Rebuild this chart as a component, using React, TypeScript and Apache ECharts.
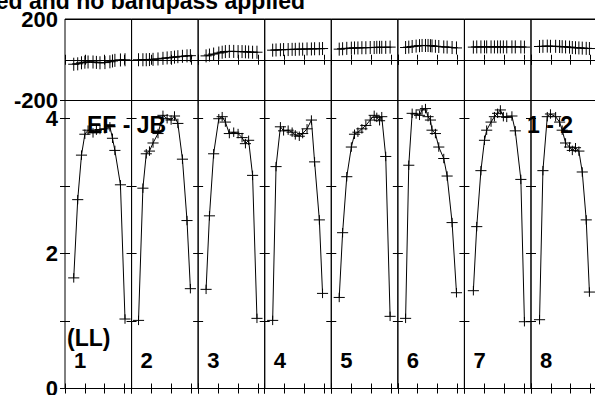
import React, { useEffect, useRef } from "react";
import * as echarts from "echarts";

// ---- data (time in tick units within each baseline segment) ----
const SEGMENT_LABELS = ["1", "2", "3", "4", "5", "6", "7", "8"];

const TIMES: number[][] = [
  [0.44, 0.64, 0.83, 1.0, 1.16, 1.41, 1.58, 1.76, 2.01, 2.26, 2.39, 2.51, 2.79, 3.02],
  [0.35, 0.57, 0.74, 0.9, 1.08, 1.33, 1.58, 1.79, 1.99, 2.16, 2.33, 2.56, 2.79, 2.96],
  [0.4, 0.57, 0.78, 1.04, 1.21, 1.37, 1.57, 1.79, 2.01, 2.21, 2.38, 2.54, 2.74, 2.96],
  [0.4, 0.57, 0.79, 0.95, 1.18, 1.38, 1.54, 1.74, 1.91, 2.13, 2.35, 2.51, 2.75, 2.91],
  [0.4, 0.57, 0.78, 1.01, 1.17, 1.34, 1.54, 1.74, 1.96, 2.16, 2.29, 2.43, 2.54, 2.74, 2.96],
  [0.39, 0.55, 0.72, 0.92, 1.09, 1.22, 1.39, 1.52, 1.64, 1.72, 1.89, 2.06, 2.31, 2.48, 2.73, 2.95],
  [0.45, 0.62, 0.83, 1.01, 1.12, 1.34, 1.51, 1.67, 1.81, 1.96, 2.13, 2.39, 2.56, 2.84, 3.02],
  [0.43, 0.6, 0.82, 0.98, 1.24, 1.44, 1.57, 1.74, 1.94, 2.08, 2.24, 2.41, 2.58, 2.78, 2.94],
];

const AMPLITUDES: number[][] = [
  [1.64, 2.8, 3.46, 3.77, 3.83, 3.79, 3.83, 3.84, 3.85, 3.88, 3.71, 3.53, 3.02, 1.03],
  [1.01, 2.97, 3.48, 3.52, 3.64, 3.78, 4.05, 4.0, 3.98, 4.04, 3.93, 3.4, 2.49, 1.48],
  [1.47, 2.56, 3.48, 4.0, 4.03, 3.95, 3.78, 3.8, 3.78, 3.72, 3.63, 3.68, 3.16, 1.04],
  [1.01, 3.29, 3.88, 3.82, 3.83, 3.8, 3.76, 3.74, 3.78, 3.85, 3.98, 3.36, 2.5, 1.41],
  [1.35, 2.31, 3.14, 3.58, 3.77, 3.8, 3.85, 3.9, 3.98, 4.05, 4.02, 3.97, 4.03, 3.44, 1.07],
  [1.04, 3.31, 4.08, 4.07, 4.05, 4.13, 4.15, 4.03, 3.98, 3.83, 3.78, 3.58, 3.41, 3.15, 2.46, 1.42],
  [1.45, 2.4, 3.23, 3.68, 3.83, 3.95, 4.03, 4.08, 4.13, 4.03, 4.02, 4.04, 3.82, 3.1, 0.99],
  [1.02, 3.23, 4.03, 4.07, 4.03, 3.95, 3.83, 3.64, 3.58, 3.53, 3.57, 3.52, 3.21, 2.5, 1.43],
];

const PHASES: number[][] = [
  [-22, -20, -15, -12, -11, -11, -13, -15, -14, -10, -6, -3, -1, 0],
  [0, 0, 0, 1, 2, 4, 7, 9, 11, 13, 15, 17, 19, 20],
  [19, 23, 28, 33, 37, 40, 41, 41, 40, 40, 39, 38, 37, 37],
  [47, 48, 49, 50, 50, 51, 51, 52, 52, 53, 53, 54, 54, 55],
  [52, 54, 56, 57, 58, 58, 59, 59, 60, 60, 61, 61, 61, 61, 62],
  [60, 62, 65, 67, 69, 70, 70, 70, 69, 68, 66, 65, 63, 62, 60, 58],
  [62, 63, 63, 63, 63, 63, 63, 63, 63, 63, 63, 63, 63, 63, 62],
  [65, 66, 67, 66, 66, 65, 64, 63, 62, 60, 59, 58, 57, 56, 55],
];

const AMP_ERR = 0.07;
const PHASE_ERR = 32;
const PHASE_TICKS = [-200, 200];
const AMP_TICK_LABELS = [0, 2, 4];
const TITLE = "ed and no bandpass applied";
const BASELINE = "EF - JB";
const CORR = "1 - 2";
const STOKES = "(LL)";

// ---- layout ----
const W = 595;
const H = 395;
const LEFT = 65;
const SEG_W = 66.57;
const SEG_SPAN = 3.35;
const TOP_Y = 19;
const TOP_H = 81.5;
const BOT_Y = 100.5;
const BOT_H = 288;
const AMP_MAX = 4.27;
const HALF = 0.28;
const FONT = '"Liberation Sans", Arial, Helvetica, sans-serif';

function crossRender(params: any, api: any) {
  const t = api.value(0);
  const v = api.value(1);
  const e = api.value(2);
  const c = api.coord([t, v]);
  const l = api.coord([t - HALF, v]);
  const r = api.coord([t + HALF, v]);
  const up = api.coord([t, v + e]);
  const dn = api.coord([t, v - e]);
  return {
    type: "group",
    children: [
      { type: "line", shape: { x1: l[0], y1: c[1], x2: r[0], y2: c[1] }, style: { stroke: "#000", lineWidth: 1 } },
      { type: "line", shape: { x1: c[0], y1: up[1], x2: c[0], y2: dn[1] }, style: { stroke: "#000", lineWidth: 1 } },
    ],
  };
}

function buildOption() {
  const grids: any[] = [];
  const xAxes: any[] = [];
  const yAxes: any[] = [];
  const series: any[] = [];
  const nSeg = SEGMENT_LABELS.length;

  const tickStyle = { show: true, inside: true, length: 5, lineStyle: { color: "#000", width: 1 } };
  const labelStyle = (show: boolean, list: number[]) => ({
    show,
    margin: 7,
    color: "#000",
    fontFamily: FONT,
    fontWeight: "bold",
    fontSize: 22,
    formatter: (v: number) => (list.includes(v) ? String(v) : ""),
  });

  for (let panel = 0; panel < 2; panel++) {
    for (let i = 0; i < nSeg; i++) {
      const g = panel * nSeg + i;
      grids.push({
        left: LEFT + i * SEG_W,
        width: SEG_W,
        top: panel === 0 ? TOP_Y : BOT_Y,
        height: panel === 0 ? TOP_H : BOT_H,
        show: true,
        borderColor: "#000",
        borderWidth: 1,
        backgroundColor: "transparent",
        containLabel: false,
        outerBoundsMode: "none",
      });
      for (const pos of ["bottom", "top"]) {
        xAxes.push({
          type: "value",
          gridIndex: g,
          position: pos,
          min: 0,
          max: SEG_SPAN,
          interval: 1,
          axisLine: { show: false },
          axisTick: tickStyle,
          axisLabel: { show: false },
          splitLine: { show: false },
        });
      }
      if (panel === 0) {
        yAxes.push({
          type: "value",
          gridIndex: g,
          position: "left",
          min: -200,
          max: 200,
          interval: 200,
          axisLine: { show: false },
          axisTick: { show: false },
          splitLine: { show: true, lineStyle: { color: "#000", width: 1 } },
          axisLabel: labelStyle(i === 0, PHASE_TICKS),
        });
        yAxes.push({
          type: "value",
          gridIndex: g,
          position: "right",
          min: -200,
          max: 200,
          interval: 200,
          axisLine: { show: false },
          axisTick: { show: false },
          splitLine: { show: false },
          axisLabel: { show: false },
        });
      } else {
        yAxes.push({
          type: "value",
          gridIndex: g,
          position: "left",
          min: 0,
          max: AMP_MAX,
          interval: 1,
          axisLine: { show: false },
          axisTick: tickStyle,
          splitLine: { show: false },
          axisLabel: labelStyle(i === 0, AMP_TICK_LABELS),
        });
        yAxes.push({
          type: "value",
          gridIndex: g,
          position: "right",
          min: 0,
          max: AMP_MAX,
          interval: 1,
          axisLine: { show: false },
          axisTick: tickStyle,
          splitLine: { show: false },
          axisLabel: { show: false },
        });
      }

      const vals = panel === 0 ? PHASES[i] : AMPLITUDES[i];
      const err = panel === 0 ? PHASE_ERR : AMP_ERR;
      const pts = TIMES[i].map((t, k) => [t, vals[k]]);
      series.push({
        type: "line",
        xAxisIndex: 2 * g,
        yAxisIndex: 2 * g,
        data: pts,
        showSymbol: false,
        symbol: "none",
        lineStyle: { color: "#000", width: 1 },
        silent: true,
      });
      series.push({
        type: "custom",
        xAxisIndex: 2 * g,
        yAxisIndex: 2 * g,
        data: TIMES[i].map((t, k) => [t, vals[k], err]),
        encode: { x: 0, y: 1 },
        renderItem: crossRender,
        silent: true,
      });
    }
  }

  const textEl = (text: string, x: number, y: number, align = "left", size = 23) => ({
    type: "text",
    x,
    y,
    silent: true,
    style: {
      text,
      fill: "#000",
      fontSize: size,
      fontWeight: "bold",
      fontFamily: FONT,
      textAlign: align,
      textVerticalAlign: "middle",
      align,
      verticalAlign: "middle",
    },
  });

  const graphics: any[] = [
    textEl(TITLE, 305, 1, "right", 23),
    textEl(BASELINE, 87, 125),
    textEl(CORR, 527, 125),
    textEl(STOKES, 67, 338),
  ];
  SEGMENT_LABELS.forEach((s, i) => {
    graphics.push(textEl(s, LEFT + i * SEG_W + 9, 360, "left", 22));
  });

  return {
    animation: false,
    backgroundColor: "#fff",
    grid: grids,
    xAxis: xAxes,
    yAxis: yAxes,
    series,
    graphic: graphics,
  };
}

export default function App() {
  const ref = useRef<HTMLDivElement>(null);
  useEffect(() => {
    if (!ref.current) return;
    const chart = echarts.init(ref.current, undefined, { renderer: "svg" });
    chart.setOption(buildOption() as any);
    return () => chart.dispose();
  }, []);
  return (
    <div
      ref={ref}
      style={{ position: "fixed", left: 0, top: 0, width: W, height: H, background: "#fff" }}
    />
  );
}
